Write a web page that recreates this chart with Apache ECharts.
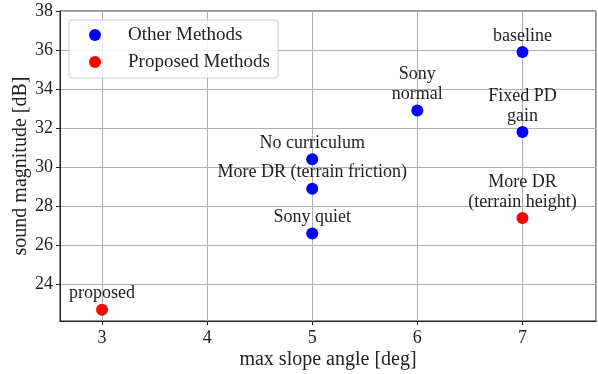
<!DOCTYPE html>
<html><head><meta charset="utf-8">
<script src="https://cdn.jsdelivr.net/npm/echarts@6/dist/echarts.min.js"></script>
<style>html,body{margin:0;padding:0;background:#fff}#c{width:598px;height:374px}</style>
</head><body><div id="c"></div>
<script>
const otherX = [7, 6, 7, 5, 5, 5];
const otherY = [35.9, 32.9, 31.8, 30.4, 28.9, 26.6];
const otherLabels = ['baseline', 'Sony\nnormal', 'Fixed PD\ngain', 'No curriculum', 'More DR (terrain friction)', 'Sony quiet'];
const propX = [7, 3];
const propY = [27.4, 22.7];
const propLabels = ['More DR\n(terrain height)', 'proposed'];
const seriesNames = ['Other Methods', 'Proposed Methods'];
const xLabel = 'max slope angle [deg]';
const yLabel = 'sound magnitude [dB]';

const FONT = 'Liberation Serif';
const TXT = '#222';
function pts(xs, ys, labels) {
  return xs.map((x, i) => ({ value: [x, ys[i]], label: { formatter: labels[i] } }));
}
const chart = echarts.init(document.getElementById('c'), null, { renderer: 'canvas' });
const labelStyle = { show: true, position: 'top', distance: 0, fontFamily: FONT, fontSize: 18, lineHeight: 20, color: TXT, align: 'center' };
chart.setOption({
  animation: false,
  textStyle: { fontFamily: FONT },
  grid: { left: 60, right: 2, top: 11, bottom: 53, outerBoundsMode: 'none', containLabel: false, show: true, borderColor: '#222', borderWidth: 1, backgroundColor: 'transparent' },
  legend: {
    left: 69, top: 20, orient: 'vertical',
    data: seriesNames,
    icon: 'circle', itemWidth: 12, itemHeight: 12, itemGap: 7,
    padding: [5, 8, 6, 20],
    borderColor: '#cccccc', borderWidth: 1, borderRadius: 3, backgroundColor: 'rgba(255,255,255,0.8)',
    textStyle: { fontFamily: FONT, fontSize: 19, color: TXT, lineHeight: 20, padding: [0, 0, 0, 22] }
  },
  xAxis: {
    type: 'value', min: 2.6, max: 7.7,
    name: xLabel, nameLocation: 'middle', nameGap: 29, nameMoveOverlap: false,
    nameTextStyle: { fontFamily: FONT, fontSize: 20, color: TXT },
    axisLine: { show: true, onZero: false, lineStyle: { color: '#222', width: 1 } },
    axisTick: { show: true, length: 4, lineStyle: { color: '#222' } },
    axisLabel: { fontFamily: FONT, fontSize: 18, color: TXT, margin: 8, showMinLabel: false, showMaxLabel: false },
    splitLine: { show: true, lineStyle: { color: '#b0b0b0', width: 1 } }
  },
  yAxis: {
    type: 'value', min: 22.12, max: 38, splitNumber: 8,
    name: yLabel, nameLocation: 'middle', nameGap: 29, nameMoveOverlap: false,
    nameTextStyle: { fontFamily: FONT, fontSize: 20, color: TXT },
    axisLine: { show: true, onZero: false, lineStyle: { color: '#222', width: 1 } },
    axisTick: { show: true, length: 4, lineStyle: { color: '#222' } },
    axisLabel: { fontFamily: FONT, fontSize: 18, color: TXT, margin: 7, showMinLabel: false },
    splitLine: { show: true, lineStyle: { color: '#b0b0b0', width: 1 } }
  },
  series: [
    { name: seriesNames[0], type: 'scatter', symbolSize: 12, itemStyle: { color: '#0000ff', opacity: 1 },
      label: labelStyle, data: pts(otherX, otherY, otherLabels), z: 3 },
    { name: seriesNames[1], type: 'scatter', symbolSize: 12, itemStyle: { color: '#ff0000', opacity: 1 },
      label: labelStyle, data: pts(propX, propY, propLabels), z: 3 }
  ]
});
</script></body></html>
